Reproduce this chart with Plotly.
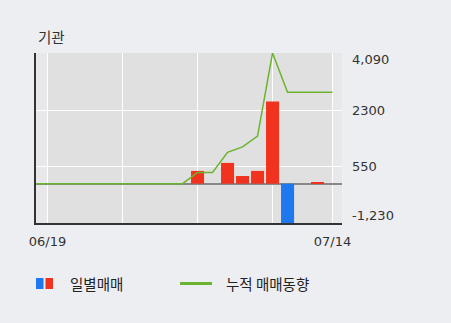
import plotly.graph_objects as go

# ---- data ----
dates = ["06/16", "06/19", "06/20", "06/21", "06/22", "06/23",
         "06/26", "06/27", "06/28", "06/29", "06/30",
         "07/03", "07/04", "07/05", "07/06", "07/07",
         "07/10", "07/11", "07/12", "07/13", "07/14"]
daily = [0, 0, 0, 0, 0, 0,
         0, 0, 0, 0, 0,
         400, 0, 650, 240, 400,
         2570, -1230, 0, 50, 0]
cumulative = [0, 0, 0, 0, 0, 0,
              0, 0, 0, 0, 0,
              350, 350, 980, 1150, 1490,
              4090, 2860, 2860, 2860, 2860]
grid_dates = ["06/19", "06/26", "07/03", "07/10", "07/14"]
x_labels = {"06/19": "06/19", "07/14": "07/14"}
y_ticks = [4090, 2300, 550, -1230]
y_tick_text = ["4,090", "2300", "550", "-1,230"]
title = "기관"
legend_bar = "일별매매"
legend_line = "누적 매매동향"

RED = "#F0321E"
BLUE = "#1E78F0"
GREEN = "#6CB42E"
KFONT = "Noto Sans CJK KR"
NFONT = "DejaVu Sans"

W, H = 451, 323
L, R, T, B = 36, 342, 53, 223


def px(x):
    return (x - L) / (R - L)


def py(y):
    return (B - y) / (B - T)


bar_colors = [RED if v >= 0 else BLUE for v in daily]

fig = go.Figure()
fig.add_trace(go.Bar(x=dates, y=daily, marker=dict(color=bar_colors, line=dict(width=0)),
                     showlegend=False, hoverinfo="skip"))
fig.add_trace(go.Scatter(x=dates, y=cumulative, mode="lines",
                         line=dict(color=GREEN, width=1.5), showlegend=False,
                         hoverinfo="skip"))

shapes = []
# darker inner plot band between first and last grid dates
shapes.append(dict(type="rect", xref="x", yref="paper", x0=grid_dates[0], x1=grid_dates[-1],
                   y0=0, y1=1, fillcolor="#E0E0E0", line=dict(width=0), layer="below"))
# legend marks
shapes.append(dict(type="rect", xref="paper", yref="paper", x0=px(36), x1=px(43.5),
                   y0=py(289), y1=py(278), fillcolor=BLUE, line=dict(width=0)))
shapes.append(dict(type="rect", xref="paper", yref="paper", x0=px(45.5), x1=px(53),
                   y0=py(289), y1=py(278), fillcolor=RED, line=dict(width=0)))
shapes.append(dict(type="line", xref="paper", yref="paper", x0=px(180), x1=px(212),
                   y0=py(283.5), y1=py(283.5), line=dict(color=GREEN, width=3)))

annotations = []
shifts = [-6, 0, 0, 8]
for v, t, s in zip(y_ticks, y_tick_text, shifts):
    annotations.append(dict(x=1, xref="paper", y=v, yref="y", text=t, showarrow=False,
                            xanchor="left", yanchor="middle", xshift=8, yshift=s,
                            font=dict(size=13, color="#333333", family=NFONT)))
annotations.append(dict(x=px(36), y=py(37), xref="paper", yref="paper", text=title,
                        showarrow=False, xanchor="left", yanchor="middle",
                        font=dict(size=14.5, color="#333333", family=KFONT)))
annotations.append(dict(x=px(68), y=py(283.5), xref="paper", yref="paper", text=legend_bar,
                        showarrow=False, xanchor="left", yanchor="middle",
                        font=dict(size=14.5, color="#222222", family=KFONT)))
annotations.append(dict(x=px(224), y=py(283.5), xref="paper", yref="paper", text=legend_line,
                        showarrow=False, xanchor="left", yanchor="middle",
                        font=dict(size=14.5, color="#222222", family=KFONT)))

n = len(dates)
fig.update_layout(
    width=W, height=H,
    margin=dict(l=L, r=W - R, t=T, b=H - B, pad=0),
    paper_bgcolor="#EDEEF2",
    plot_bgcolor="#E8E8EA",
    bargap=0.13,
    shapes=shapes,
    annotations=annotations,
    showlegend=False,
    xaxis=dict(
        type="category", categoryorder="array", categoryarray=dates,
        range=[0.23, n - 1 + 0.63],
        tickmode="array", tickvals=grid_dates,
        ticktext=[x_labels.get(d, "") for d in grid_dates],
        showgrid=True, gridcolor="#FFFFFF", gridwidth=1,
        showline=True, linecolor="#333333", linewidth=2,
        ticks="", ticklabelstandoff=5,
        tickfont=dict(size=13, color="#333333", family=NFONT),
        zeroline=False, fixedrange=True,
    ),
    yaxis=dict(
        range=[y_ticks[-1], y_ticks[0]],
        tickmode="array", tickvals=y_ticks, showticklabels=False,
        showgrid=True, gridcolor="#FFFFFF", gridwidth=1,
        zeroline=True, zerolinecolor="#888888", zerolinewidth=2,
        showline=True, linecolor="#333333", linewidth=2, mirror=False,
        ticks="", fixedrange=True,
    ),
)

fig.write_html("out.html")
